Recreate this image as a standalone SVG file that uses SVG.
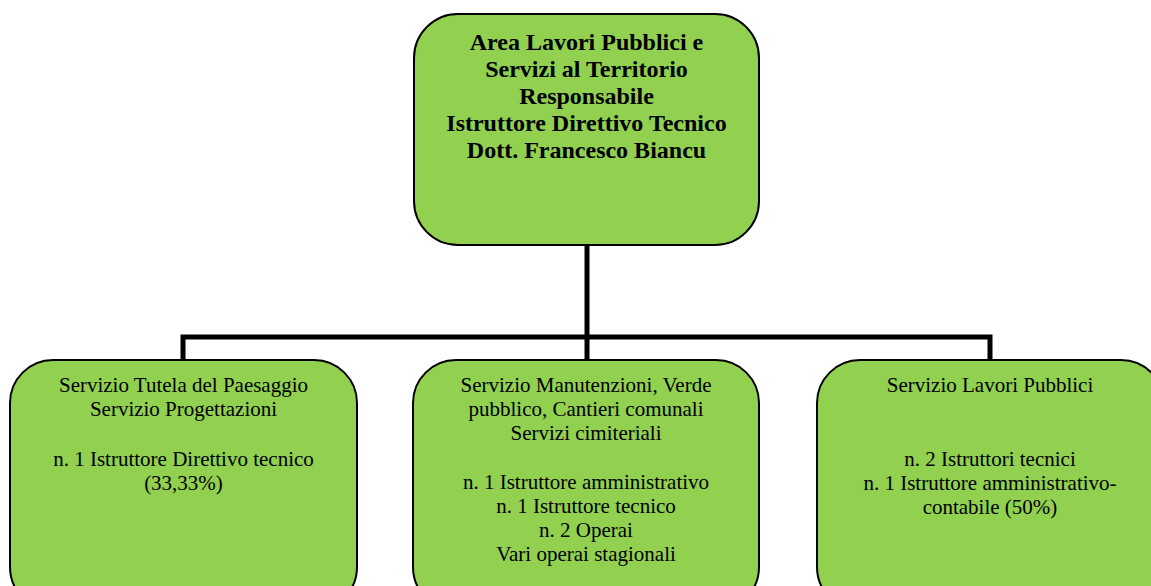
<svg xmlns="http://www.w3.org/2000/svg" width="1151" height="586" viewBox="0 0 1151 586">
<style>
.box{fill:#92D050;stroke:#000;stroke-width:2}
.conn{fill:none;stroke:#000;stroke-width:5;stroke-linejoin:miter}
.t{font-family:"Liberation Serif","Times New Roman",serif;text-anchor:middle;fill:#000}
.b{font-size:24px;font-weight:bold}
.r{font-size:21px}
</style>
<rect width="1151" height="586" fill="#fff"/>
<g id="connectors">
<path class="conn" d="M587,245 V337"/>
<path class="conn" d="M183,361 V337 H990 V361"/>
<path class="conn" d="M587,337 V361"/>
</g>
<g id="top">
<rect class="box" x="414" y="14" width="345" height="231" rx="44" ry="44"/>
<text class="t b" x="586.5" y="50">Area Lavori Pubblici e</text>
<text class="t b" x="586.5" y="77">Servizi al Territorio</text>
<text class="t b" x="586.5" y="104">Responsabile</text>
<text class="t b" x="586.5" y="131">Istruttore Direttivo Tecnico</text>
<text class="t b" x="586.5" y="158">Dott. Francesco Biancu</text>
</g>
<g id="left">
<rect class="box" x="10" y="360" width="347" height="250" rx="43" ry="43"/>
<text class="t r" x="183.5" y="392">Servizio Tutela del Paesaggio</text>
<text class="t r" x="183.5" y="416">Servizio Progettazioni</text>
<text class="t r" x="183.5" y="466">n. 1 Istruttore Direttivo tecnico</text>
<text class="t r" x="183.5" y="490">(33,33%)</text>
</g>
<g id="middle">
<rect class="box" x="413" y="360" width="346" height="250" rx="43" ry="43"/>
<text class="t r" x="586" y="392">Servizio Manutenzioni, Verde</text>
<text class="t r" x="586" y="416">pubblico, Cantieri comunali</text>
<text class="t r" x="586" y="440">Servizi cimiteriali</text>
<text class="t r" x="586" y="489">n. 1 Istruttore amministrativo</text>
<text class="t r" x="586" y="513">n. 1 Istruttore tecnico</text>
<text class="t r" x="586" y="537">n. 2 Operai</text>
<text class="t r" x="586" y="561">Vari operai stagionali</text>
</g>
<g id="right">
<rect class="box" x="817" y="360" width="347" height="250" rx="43" ry="43"/>
<text class="t r" x="990" y="392">Servizio Lavori Pubblici</text>
<text class="t r" x="990" y="466">n. 2 Istruttori tecnici</text>
<text class="t r" x="990" y="490">n. 1 Istruttore amministrativo-</text>
<text class="t r" x="990" y="514">contabile (50%)</text>
</g>
</svg>
